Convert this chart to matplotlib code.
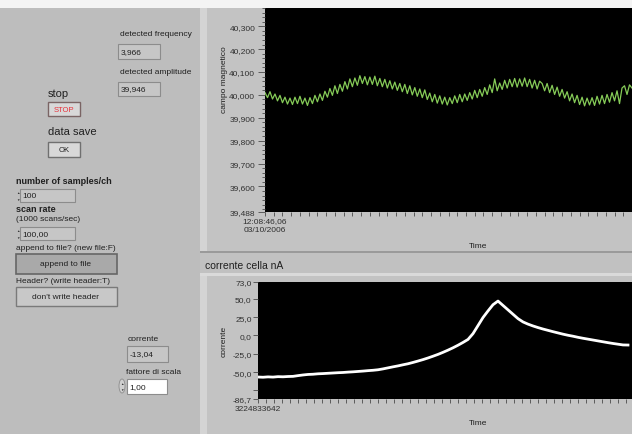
import matplotlib
matplotlib.use('Agg')
import matplotlib.pyplot as plt
from matplotlib.patches import Rectangle, Ellipse
from matplotlib.ticker import MultipleLocator

plt.rcParams['font.family'] = ['Liberation Sans', 'DejaVu Sans']

# campo magnetico trace (green)
campo = [
    40.010, 39.988, 40.014, 39.982, 40.004, 39.974, 39.998, 39.966, 39.990, 39.960, 39.986,
    39.958, 39.990, 39.962, 39.994, 39.960, 39.986, 39.954, 39.988,
    39.962, 39.998, 39.970, 40.004,
    39.976, 40.016, 39.990, 40.028, 39.998, 40.040, 40.006, 40.046,
    40.016, 40.058, 40.026, 40.070, 40.036, 40.074,
    40.042, 40.084, 40.050, 40.080, 40.044, 40.078,
    40.046, 40.082, 40.040, 40.072, 40.036, 40.068,
    40.030, 40.062, 40.026, 40.056, 40.020, 40.050,
    40.014, 40.046, 40.006, 40.040, 40.000, 40.032, 39.994, 40.026,
    39.988, 40.022, 39.980, 40.008, 39.970, 40.002, 39.964, 39.996,
    39.960, 39.990, 39.956, 39.988,
    39.962, 39.996, 39.966, 40.002, 39.970, 40.004,
    39.976, 40.010, 39.982, 40.020, 39.988, 40.024,
    39.994, 40.032, 40.002, 40.044, 40.010, 40.070,
    40.018, 40.052, 40.024, 40.064, 40.030, 40.068,
    40.036, 40.072, 40.034, 40.070, 40.038, 40.074,
    40.036, 40.068, 40.030, 40.064, 40.026, 40.060,
    40.050, 40.018, 40.050, 40.010, 40.042, 40.002,
    40.034, 39.994, 40.024, 39.986, 40.014, 39.974, 40.004, 39.966,
    39.998, 39.958, 39.990, 39.952, 39.986, 39.956,
    39.988, 39.954, 39.994, 39.960, 39.998, 39.962,
    40.002, 39.968, 40.010, 39.974, 40.018, 39.962,
    40.030, 40.040, 40.002, 40.044, 40.030,
]

# corrente cella trace (white)
corrente = [
    -56.7, -57.0, -56.5, -56.8, -56.2, -56.4, -56.0, -55.8, -54.8, -53.9,
    -53.2, -52.9, -52.3, -52.0, -51.6, -51.2, -50.8, -50.5, -50.0, -49.6,
    -49.1, -48.6, -48.0, -47.5, -46.8, -45.6, -44.2, -42.8, -41.5, -40.0,
    -38.6, -36.8, -34.9, -32.9, -30.7, -28.3, -25.8, -23.0, -20.0, -16.8,
    -13.3, -9.5, -5.4, 2.5, 13.5, 24.5, 33.5, 42.0, 47.0, 41.0,
    35.0, 29.0, 23.0, 18.5, 15.5, 13.0, 10.8, 8.8, 7.0, 5.2,
    3.5, 1.8, 0.3, -1.0, -2.5, -3.8, -5.0, -6.2, -7.4, -8.6,
    -9.8, -10.9, -11.9, -12.9, -13.04,
]

campo_ticks = [39.488, 39.6, 39.7, 39.8, 39.9, 40.0, 40.1, 40.2, 40.3]
campo_ylim = (39.488, 40.380)
corr_ticks = [-86.7, -75.0, -50.0, -25.0, 0.0, 25.0, 50.0, 73.0]
corr_ylim = (-86.7, 73.0)
time_start = '12:08:46,06\n03/10/2006'
time_start2 = '3224833642'

W, H = 632, 435
fig = plt.figure(figsize=(6.32, 4.35), dpi=100)

bg = fig.add_axes([0, 0, 1, 1])
bg.set_xlim(0, W)
bg.set_ylim(H, 0)
bg.axis('off')


def rect(x0, y0, x1, y1, face, edge='none', lw=0.8):
    bg.add_patch(Rectangle((x0, y0), x1 - x0, y1 - y0, facecolor=face,
                           edgecolor=edge, linewidth=lw))


def label(x, y, s, size=6, **kw):
    kw.setdefault('color', '#202020')
    kw.setdefault('va', 'center')
    bg.text(x, y, s, fontsize=size, **kw)


def spin(x, y):
    bg.text(x, y - 3, '\u25b2', fontsize=2.5, ha='center', va='center', color='#303030')
    bg.text(x, y + 3, '\u25bc', fontsize=2.5, ha='center', va='center', color='#303030')


# panels
rect(0, 0, W, H, '#bdbdbd')
rect(0, 0, W, 9, '#f4f4f4')
rect(200, 9, 207, 252, '#d4d4d4')
rect(207, 9, W, 252, '#c3c3c3')
rect(200, 252, W, 254, '#9a9a9a')
rect(200, 254, W, 274, '#c1c1c1')
rect(200, 274, W, 277, '#dadada')
rect(200, 277, 207, H, '#d4d4d4')
rect(207, 277, W, H, '#c3c3c3')

# left controls
label(120, 35, 'detected frequency')
rect(118, 45, 160, 60, '#c6c6c6', '#8c8c8c')
label(121, 52.5, '3,966')
label(120, 72, 'detected amplitude')
rect(118, 83, 160, 97, '#c6c6c6', '#8c8c8c')
label(121, 90, '39,946')

label(48, 94, 'stop', size=8)
rect(48, 103, 80, 117, '#d8d8d8', '#7a6464', lw=1.0)
label(64, 110, 'STOP', size=5.5, ha='center', color='#e8303a')
label(48, 132, 'data save', size=8)
rect(48, 143, 80, 158, '#d8d8d8', '#707070', lw=1.0)
label(64, 150.5, 'OK', size=5.5, ha='center')

label(16, 182, 'number of samples/ch', size=6.5, fontweight='bold')
spin(18, 196.5)
rect(20, 190, 75, 203, '#c6c6c6', '#8c8c8c')
label(22, 196.5, '100')
label(16, 210, 'scan rate', size=6.5, fontweight='bold')
label(16, 220, '(1000 scans/sec)')
spin(18, 234.5)
rect(20, 228, 75, 241, '#c6c6c6', '#8c8c8c')
label(22, 234.5, '100,00')

label(16, 249, 'append to file? (new file:F)')
rect(16, 255, 117, 275, '#a9a9a9', '#666666', lw=1.2)
label(66, 265, 'append to file', ha='center')
label(16, 282, 'Header? (write header:T)')
rect(16, 288, 117, 307, '#c8c8c8', '#7a7a7a', lw=1.0)
label(66, 297.5, "don't write header", ha='center')

label(128, 340, 'corrente')
rect(127, 347, 168, 363, '#c6c6c6', '#8c8c8c')
label(130, 355, '-13,04')
label(126, 373, 'fattore di scala')
bg.add_patch(Ellipse((122, 387), 6, 14, facecolor='#cfcfcf', edgecolor='#8c8c8c', lw=0.6))
spin(122, 387)
rect(127, 380, 167, 395, 'white', '#8c8c8c')
label(129, 387.5, '1,00')

# chart captions
label(224, 80, 'campo magnetico', rotation=90, ha='center')
label(478, 247, 'Time', ha='center')
label(205, 266, 'corrente cella nA', size=7.5)
label(224, 341, 'corrente', rotation=90, ha='center')
label(478, 424, 'Time', ha='center')


def px_axes(x0, y0, x1, y1):
    return fig.add_axes([x0 / W, 1 - y1 / H, (x1 - x0) / W, (y1 - y0) / H])


def style(ax):
    ax.set_facecolor('black')
    for s in ax.spines.values():
        s.set_visible(False)
    ax.tick_params(axis='both', which='both', direction='out', color='#4a4a4a',
                   labelcolor='#303030', labelsize=6, width=0.6)


# top chart
ax1 = px_axes(265, 9, W, 213)
style(ax1)
ax1.plot(campo, color='#86cc58', lw=0.9)
ax1.set_xlim(0, len(campo) - 1)
ax1.set_ylim(*campo_ylim)
ax1.set_yticks(campo_ticks)
ax1.set_yticklabels([f'{v:.3f}'.replace('.', ',') for v in campo_ticks])
ax1.yaxis.set_minor_locator(MultipleLocator(0.02))
ax1.tick_params(axis='y', which='major', length=5, pad=2)
ax1.tick_params(axis='y', which='minor', length=2.5)
ax1.set_xticks([0])
ax1.set_xticklabels([time_start], linespacing=1.4)
ax1.xaxis.set_minor_locator(MultipleLocator(3.5))
ax1.tick_params(axis='x', which='both', length=3, pad=0.5)

# bottom chart
ax2 = px_axes(258, 283, W, 400)
style(ax2)
ax2.plot(corrente, color='white', lw=2)
ax2.set_xlim(0, 74.8)
ax2.set_ylim(*corr_ylim)
ax2.set_yticks(corr_ticks)
ax2.set_yticklabels(['' if v == -75.0 else f'{v:.1f}'.replace('.', ',') for v in corr_ticks])
ax2.tick_params(axis='y', which='major', length=3.5, pad=1)
ax2.set_xticks([0])
ax2.set_xticklabels([time_start2])
ax2.xaxis.set_minor_locator(MultipleLocator(1.6))
ax2.tick_params(axis='x', which='both', length=3, pad=1.5)

fig.savefig('out.png', dpi=100)
